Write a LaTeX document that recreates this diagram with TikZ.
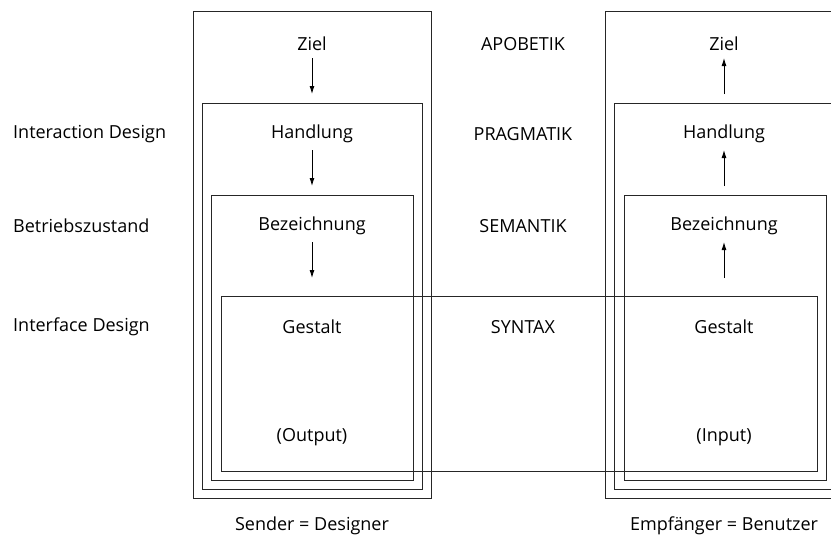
\documentclass[tikz,border=0pt]{standalone}
\usepackage{fontspec}
\setmainfont{Open Sans}
\usetikzlibrary{arrows.meta}
\begin{document}
\begin{tikzpicture}[x=1pt,y=-1pt,
  box/.style={draw=black!85,line width=1pt},
  lbl/.style={font=\fontsize{18}{21}\selectfont,inner sep=0pt,text=black},
  arr/.style={draw=black,line width=0.9pt,-{Latex[length=8pt,width=5pt]}}]
\useasboundingbox (0,0) rectangle (831,539);
\begin{scope}
\clip (0,0) rectangle (831,539);
% left boxes
\draw[box] (193,11) rectangle (431,498);
\draw[box] (202,103) rectangle (422,489);
\draw[box] (211,195) rectangle (413,480);
% right boxes
\draw[box] (605,11) rectangle (843,498);
\draw[box] (614,103) rectangle (834,489);
\draw[box] (624,195) rectangle (826,480);
% Gestalt box spanning
\draw[box] (221,296) rectangle (817,471);
\end{scope}
% labels left
\node[lbl,anchor=west] (ixd) at (13,134) {Interaction Design};
\node[lbl,anchor=west] (bz) at (13,226) {Betriebszustand};
\node[lbl,anchor=west] (ifd) at (13,327) {Interface Design};
% center column
\node[lbl] (apo) at (523,44) {APOBETIK};
\node[lbl] (pra) at (523,134) {PRAGMATIK};
\node[lbl] (sem) at (523,226) {SEMANTIK};
\node[lbl] (syn) at (523,327) {SYNTAX};
% sender
\node[lbl] (lz) at (312,44) {Ziel};
\node[lbl] (lh) at (312,134) {Handlung};
\node[lbl] (lb) at (312,226) {Bezeichnung};
\node[lbl] (lg) at (312,327) {Gestalt};
\node[lbl] (lo) at (312,437) {(Output)};
% receiver
\node[lbl] (rz) at (724,44) {Ziel};
\node[lbl] (rh) at (724,134) {Handlung};
\node[lbl] (rb) at (724,226) {Bezeichnung};
\node[lbl] (rg) at (724,327) {Gestalt};
\node[lbl] (ri) at (724,437) {(Input)};
% bottom
\node[lbl] (snd) at (312,526) {Sender = Designer};
\node[lbl] (emp) at (724,526) {Empfänger = Benutzer};
% arrow anchors
\coordinate (la1) at (312,58); \coordinate (la2) at (312,94);
\coordinate (lb1) at (312,150); \coordinate (lb2) at (312,186);
\coordinate (lc1) at (312,242); \coordinate (lc2) at (312,278);
\coordinate (ra1) at (724,58); \coordinate (ra2) at (724,94);
\coordinate (rb1) at (724,150); \coordinate (rb2) at (724,186);
\coordinate (rc1) at (724,242); \coordinate (rc2) at (724,278);
\draw[arr] (la1) -- (la2);
\draw[arr] (lb1) -- (lb2);
\draw[arr] (lc1) -- (lc2);
\draw[arr] (ra2) -- (ra1);
\draw[arr] (rb2) -- (rb1);
\draw[arr] (rc2) -- (rc1);
\end{tikzpicture}
\end{document}
